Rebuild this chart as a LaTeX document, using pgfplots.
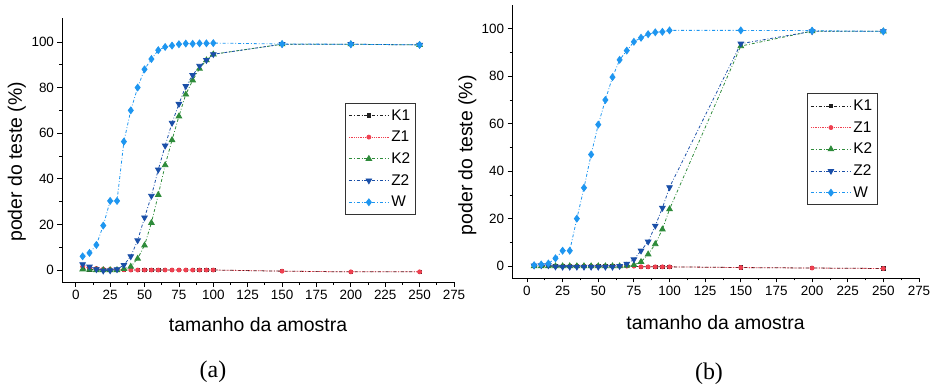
\documentclass[border=0pt]{standalone}
\usepackage{fontspec}
\setmainfont{Liberation Sans}
\newfontfamily\serifrm{Liberation Serif}
\usepackage{pgfplots}
\usepackage{pgfplotstable}
\pgfplotsset{compat=1.18}

\pgfplotstableread{
x    K1   Z1   K2   Z2   W
5    0.5  1.5  0.3  2.5  6
10   0.3  1.0  0.2  1.5  7.5
15   0.2  0.7  0    0.3  11
20   0    0.4  0   -0.3  19.5
25   0    0.3  0   -0.2  30.3
30   0    0.2  0    0.3  30.3
35   0    0.1  0.5  2.2  56.3
40   0    0    1.5  6    70
45   0    0    5    13   80
50   0    0    10.8 23   88
55   0    0    20.7 32.5 92.5
60   0    0    33   44   96.4
65   0    0    46   54.5 97.8
70   0    0    57   64.5 98.4
75   0    0    67.4 72.8 99
80   0    0    77   80.6 99.3
85   0    0    83.2 85.4 99.2
90   0    0    88.3 89.5 99.4
95   0    0    92   92   99.4
100  0    0    94.6 94.6 99.5
150 -0.5 -0.5  99   99   99.1
200 -0.8 -0.8  99   99   99
250 -0.8 -0.8  98.7 98.7 98.7
}\dataA

\pgfplotstableread{
x    K1   Z1   K2   Z2   W
5    0    0.2  0    0.2  0.4
10   0    0.2  0    0.3  0.7
15   0    0.2  0    0.3  1.1
20   0    0    0   -0.2  3.3
25   0    0    0   -0.3  6.5
30   0    0    0   -0.3  6.5
35   0    0    0   -0.3  20
40   0    0    0   -0.3  33
45   0    0    0   -0.3  47
50   0    0    0   -0.3  59.6
55   0    0    0   -0.3  70
60   0    0    0   -0.3  79.6
65   0    0    0    0    86.9
70   0    0    0.2  1    90.8
75   0    0    0.5  2.8  94.5
80  -0.3 -0.3  1.8  6.5  96.2
85  -0.3 -0.3  5    10.3 97.7
90  -0.3 -0.3  9.3  17   98.5
95  -0.3 -0.3  15.5 24.5 98.7
100 -0.3 -0.3  24   33.2 99.3
150 -0.6 -0.6  92.7 93.7 99.3
200 -0.8 -0.8  99   98.9 99.2
250 -1.0 -1.0  98.9 98.9 98.9
}\dataB

\definecolor{cK1}{HTML}{202020}
\definecolor{cZ1}{HTML}{F04050}
\definecolor{cK2}{HTML}{2E8B3A}
\definecolor{cZ2}{HTML}{1A4FA8}
\definecolor{cW}{HTML}{1E96F0}

\pgfplotsset{
 panel/.style={
  scale only axis,
  axis lines=left,
  axis line style={-, black, line width=0.9pt},
  tick align=outside,
  xtick={0,25,...,275}, ytick={0,20,...,100},
  minor x tick num=1, minor y tick num=1,
  major tick length=4.5bp, minor tick length=2.5bp,
  tick style={black, line width=0.8pt},
  /pgf/number format/assume math mode=true,
  tick label style={font=\fontsize{13.5}{15}\selectfont},
  label style={font=\fontsize{19.5}{22}\selectfont},
  legend style={font=\fontsize{15.5}{17}\selectfont, draw=black!80, line width=0.9pt,
    inner xsep=3bp, inner ysep=4bp, row sep=5.5bp, cells={anchor=west}},
  legend cell align=left,
  legend image code/.code={\draw[mark repeat=2,mark phase=2] plot coordinates {(0bp,0bp) (20bp,0bp) (40bp,0bp)};},
  every axis plot/.append style={line width=0.8pt},
  xlabel={tamanho da amostra},
  ylabel={poder do teste (\%)},
 },
 sK1/.style={cK1, dash dot, mark=square*, mark size=1.7bp, mark options={solid}},
 sZ1/.style={cZ1, densely dotted, mark=*, mark size=2bp, mark options={solid}},
 sK2/.style={cK2, dash dot, mark=triangle*, mark size=3.2bp, mark options={solid}},
 sZ2/.style={cZ2, dash dot, mark=triangle*, mark size=3.2bp, mark options={solid, rotate=180}},
 sW/.style={cW, dash dot, mark=diamond*, mark size=3.4bp, mark options={solid}},
}

\begin{document}
\begin{tikzpicture}
\useasboundingbox (0,0) rectangle (933bp,389bp);

\begin{axis}[panel,
  at={(62bp,107bp)}, anchor=south west,
  width=392bp, height=264bp,
  xmin=-10, xmax=275, ymin=-5.25, ymax=110.5,
  xlabel style={at={(axis description cs:0.5,-0.163)}, anchor=center},
  ylabel style={at={(axis description cs:-0.115,0.455)}, anchor=center},
  legend style={at={(0.722,0.678)}, anchor=north west},
]
\addplot[sK1] table[x=x,y=K1] {\dataA};
\addplot[sZ1] table[x=x,y=Z1] {\dataA};
\addplot[sK2] table[x=x,y=K2] {\dataA};
\addplot[sZ2] table[x=x,y=Z2] {\dataA};
\addplot[sW]  table[x=x,y=W]  {\dataA};
\legend{K1,Z1,K2,Z2,W}
\end{axis}

\begin{axis}[panel,
  at={(512bp,111bp)}, anchor=south west,
  width=407bp, height=273bp,
  xmin=-10.5, xmax=275, ymin=-5, ymax=110,
  xlabel style={at={(axis description cs:0.5,-0.165)}, anchor=center},
  ylabel style={at={(axis description cs:-0.11,0.45)}, anchor=center},
  legend style={at={(0.725,0.676)}, anchor=north west},
]
\addplot[sK1] table[x=x,y=K1] {\dataB};
\addplot[sZ1] table[x=x,y=Z1] {\dataB};
\addplot[sK2] table[x=x,y=K2] {\dataB};
\addplot[sZ2] table[x=x,y=Z2] {\dataB};
\addplot[sW]  table[x=x,y=W]  {\dataB};
\legend{K1,Z1,K2,Z2,W}
\end{axis}

\node[font=\serifrm\fontsize{24}{26}\selectfont] at (213bp,17bp) {(a)};
\node[font=\serifrm\fontsize{24}{26}\selectfont] at (709bp,15bp) {(b)};
\end{tikzpicture}
\end{document}
